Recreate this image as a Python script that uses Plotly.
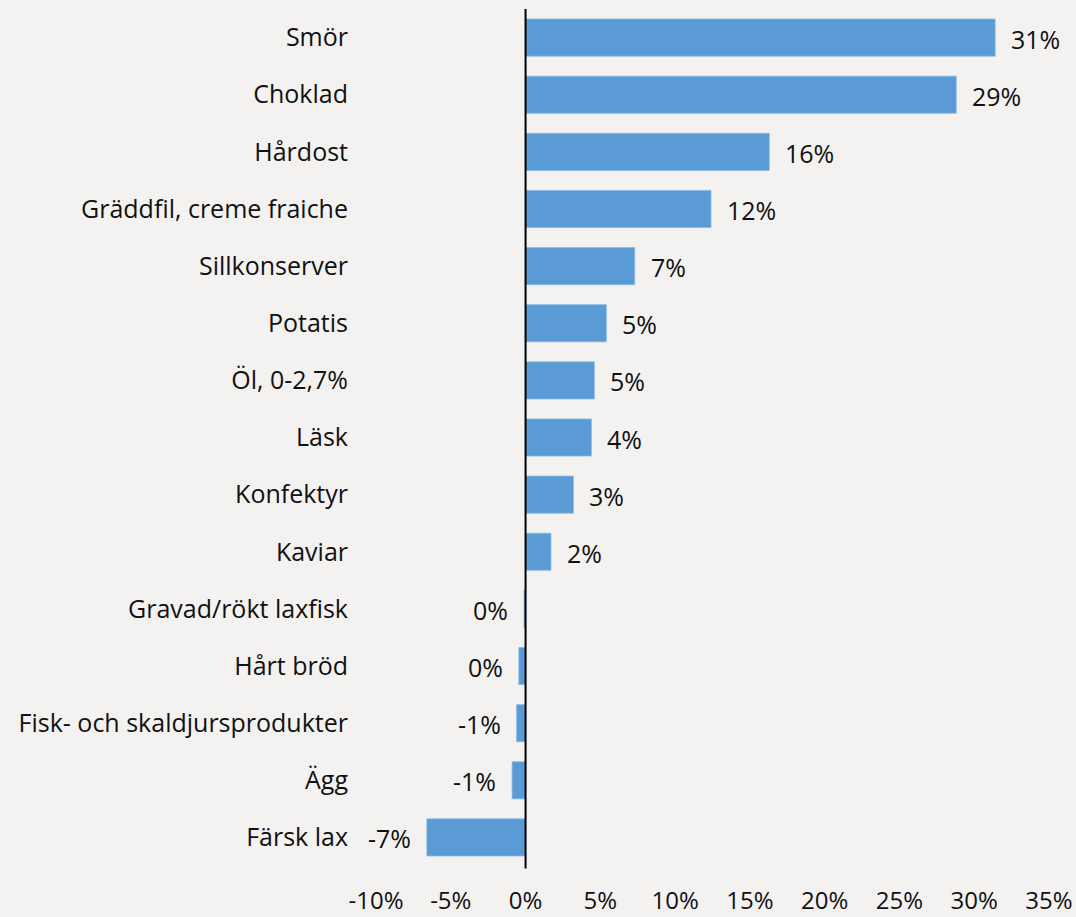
import plotly.graph_objects as go

categories = ["Smör", "Choklad", "Hårdost", "Gräddfil, creme fraiche", "Sillkonserver",
              "Potatis", "Öl, 0-2,7%", "Läsk", "Konfektyr", "Kaviar",
              "Gravad/rökt laxfisk", "Hårt bröd", "Fisk- och skaldjursprodukter", "Ägg", "Färsk lax"]
values = [31.4, 28.8, 16.3, 12.4, 7.3, 5.4, 4.6, 4.4, 3.2, 1.7, -0.1, -0.45, -0.6, -0.9, -6.6]
labels = [f"{int(round(v))}%" for v in values]
tick_vals = [-10, -5, 0, 5, 10, 15, 20, 25, 30, 35]
tick_text = [f"{t}%" for t in tick_vals]

FONT = "Open Sans"
FS = 25
fig = go.Figure()
fig.add_trace(go.Bar(
    y=categories, x=values, orientation="h",
    marker=dict(color="#5b9bd5", line=dict(color="#8ab8e6", width=0.8)),
    hoverinfo="skip",
))

for c, v, t in zip(categories, values, labels):
    fig.add_annotation(
        x=v, y=c, text=t, showarrow=False,
        xanchor="left" if v > 0 else "right",
        xshift=14 if v > 0 else -14, yshift=-1,
        font=dict(family=FONT, size=FS, color="#111111"),
    )

fig.update_layout(
    width=1076, height=917,
    paper_bgcolor="#f3f2f0", plot_bgcolor="#f3f2f0",
    margin=dict(l=376, r=27, t=9, b=51, autoexpand=False),
    showlegend=False, bargap=0.35,
    font=dict(family=FONT, size=FS, color="#111111"),
)
fig.update_xaxes(
    range=[-10, 35], tickvals=tick_vals, ticktext=tick_text,
    showgrid=False, zeroline=False, showline=False, automargin=False,
    ticks="", ticklabelstandoff=18,
    tickfont=dict(family=FONT, size=24, color="#111111"),
)
fig.update_yaxes(
    categoryorder="array", categoryarray=categories,
    range=[14.5, -0.5], showgrid=False, zeroline=False, automargin=False,
    ticks="", ticklabelstandoff=27,
    tickfont=dict(family=FONT, size=FS, color="#111111"),
)
fig.add_shape(type="line", xref="x", yref="paper", x0=0, x1=0, y0=-0.003, y1=1,
              line=dict(color="#000000", width=2))

fig.write_html("out.html", config={"displayModeBar": False},
               post_script="document.body.style.margin='0';document.body.style.background='#f3f2f0';")
